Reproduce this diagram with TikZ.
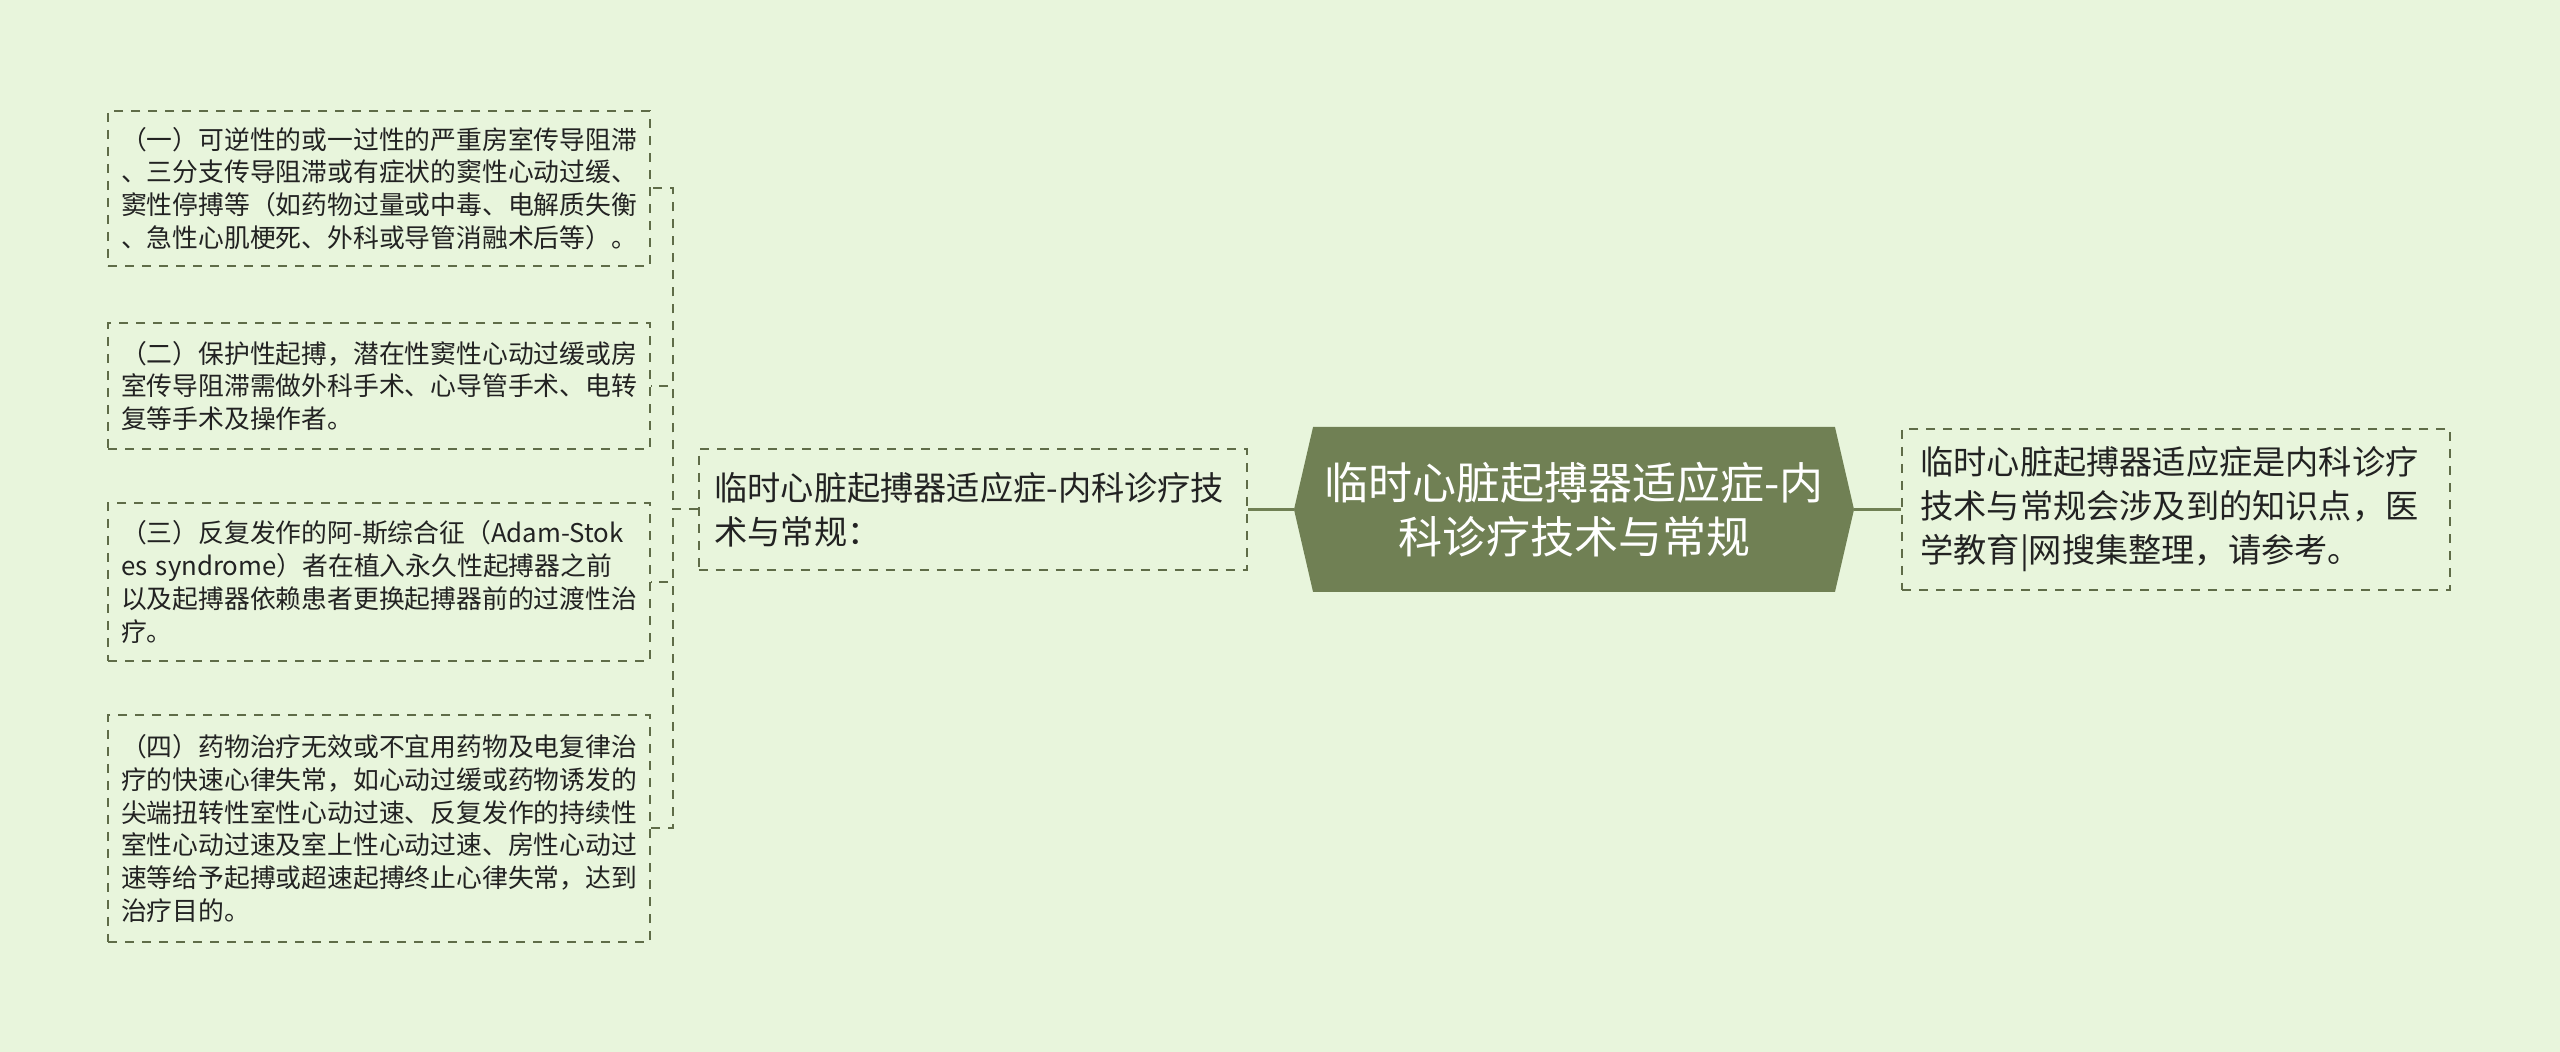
\documentclass[tikz,border=0pt]{standalone}
\usepackage{fontspec}
\setmainfont{Noto Sans CJK SC}
\usetikzlibrary{positioning,shapes.symbols}
\definecolor{paper}{RGB}{232,245,220}
\definecolor{olive}{RGB}{112,128,84}
\definecolor{rim}{RGB}{95,108,72}
\definecolor{ink}{RGB}{34,34,34}

\begin{document}
\begin{tikzpicture}[x=0.5pt, y=-0.5pt, node distance=23pt,
	note/.style={draw=rim, line width=1pt, dash pattern=on 4.5pt off 4pt, text=ink, align=left, anchor=east,
		inner xsep=6.5pt, text width=258pt, font=\fontsize{12.9pt}{16.4pt}\selectfont},
	topic/.style={draw=rim, line width=1pt, dash pattern=on 4.5pt off 4pt, text=ink, align=left,
		inner xsep=8pt, text width=258pt, minimum height=60.5pt, font=\fontsize{16.6pt}{22pt}\selectfont},
	root/.style={signal, signal to=west and east, signal pointer angle=154, fill=olive, text=white, align=center,
		minimum width=280pt, minimum height=82.5pt, font=\fontsize{22pt}{27pt}\selectfont},
	trunk/.style={olive, line width=1.5pt},
	twig/.style={rim, line width=1pt, dash pattern=on 4.5pt off 4pt}]

	% Background
	\fill [paper] (0,0) rectangle (2560,1052);
	\useasboundingbox (0,0) rectangle (2560,1052);

	% Nodes {hex, mid, info, b1, b2, b3, b4}
	\node [root]                          (hex) at (1574,509.5) {临时心脏起搏器适应症-内\\科诊疗技术与常规};
	\node [topic, left=23pt of hex]       (mid)  {临时心脏起搏器适应症-内科诊疗技\\术与常规：};
	\node [topic, right=23.5pt of hex, text width=256pt, inner xsep=9pt, minimum height=80.5pt]
	                                      (info) {临时心脏起搏器适应症是内科诊疗\\技术与常规会涉及到的知识点，医\\学教育|网搜集整理，请参考。};

	\node [note, minimum height=77.5pt]   (b1) at (651,188.5)
	{（一）可逆性的或一过性的严重房室传导阻滞\\、三分支传导阻滞或有症状的窦性心动过缓、\\窦性停搏等（如药物过量或中毒、电解质失衡\\、急性心肌梗死、外科或导管消融术后等）。};
	\node [note, minimum height=63pt]     (b2) at (651,386)
	{（二）保护性起搏，潜在性窦性心动过缓或房\\室传导阻滞需做外科手术、心导管手术、电转\\复等手术及操作者。};
	\node [note, minimum height=79pt]     (b3) at (651,582)
	{（三）反复发作的阿-斯综合征（Adam-Stok\\es syndrome）者在植入永久性起搏器之前\\以及起搏器依赖患者更换起搏器前的过渡性治\\疗。};
	\node [note, minimum height=113.5pt]  (b4) at (651,828.5)
	{（四）药物治疗无效或不宜用药物及电复律治\\疗的快速心律失常，如心动过缓或药物诱发的\\尖端扭转性室性心动过速、反复发作的持续性\\室性心动过速及室上性心动过速、房性心动过\\速等给予起搏或超速起搏终止心律失常，达到\\治疗目的。};

	% Paths from the root
	\draw [trunk] (hex.west) -- (mid.east);
	\draw [trunk] (hex.east) -- (info.west);

	% The fork between mid and the four boxes
	\coordinate [left=12.5pt of mid.west] (fork);
	\foreach \b in {b1,b2,b3,b4}
		\draw [twig] (mid.west) -- (fork) |- (\b.east);

\end{tikzpicture}
\end{document}
